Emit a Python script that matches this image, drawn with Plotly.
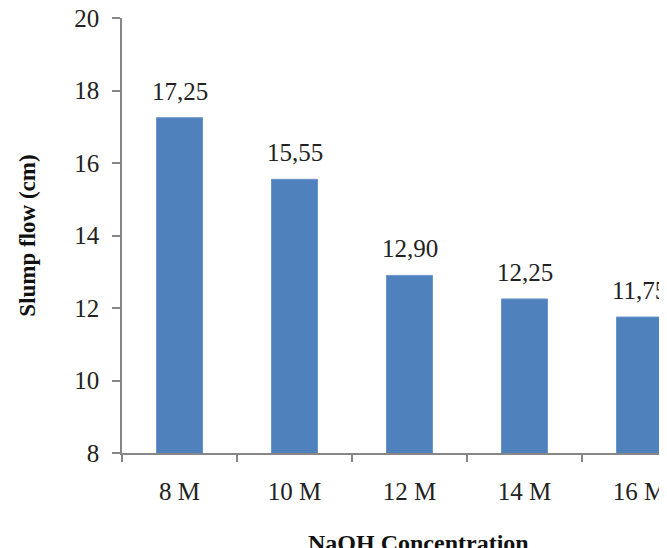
import plotly.graph_objects as go

categories = ["8 M", "10 M", "12 M", "14 M", "16 M"]
slump_flow = [17.25, 15.55, 12.90, 12.25, 11.75]
y_ticks = [8, 10, 12, 14, 16, 18, 20]

# page body has an 8px margin; size the figure so it fills the window exactly
W, H = 659, 540
L, R, T, B = 114, 0, 10, 95
cat_px = 115.0
plot_w = W - L - R
plot_h = H - T - B
x_max = -0.5 + plot_w / cat_px

serif = "Liberation Serif, Times New Roman, serif"
axis_col = "#868686"
txt_col = "#222222"

fig = go.Figure()
fig.add_trace(go.Bar(
    x=categories, y=slump_flow, width=0.4,
    marker=dict(color="#4F81BD", line=dict(color="#6A95CC", width=1)),
    cliponaxis=True, hoverinfo="skip",
))

for c, v in zip(categories, slump_flow):
    fig.add_annotation(
        x=c, y=v, xref="x", yref="y", text=f"{v:.2f}".replace(".", ","),
        showarrow=False, yanchor="bottom", yshift=11,
        font=dict(family=serif, size=25, color=txt_col),
    )

fig.add_annotation(
    x=(410 - L) / plot_w, y=-90 / plot_h, xref="paper", yref="paper",
    text="<b>NaOH Concentration</b>", showarrow=False, xanchor="center", yanchor="middle",
    font=dict(family=serif, size=24, color="#111"),
)

fig.update_layout(
    width=W, height=H,
    margin=dict(l=L, r=R, t=T, b=B, pad=0, autoexpand=False),
    paper_bgcolor="white", plot_bgcolor="white",
    showlegend=False,
    xaxis=dict(
        type="category", range=[-0.5, x_max], automargin=False,
        showline=True, linecolor=axis_col, linewidth=1.5,
        ticks="outside", tickson="boundaries", ticklen=7, tickcolor=axis_col, tickwidth=1.5,
        showgrid=False, zeroline=False,
        tickfont=dict(family=serif, size=25, color=txt_col),
        ticklabelstandoff=15, ticklabeloverflow="allow",
    ),
    yaxis=dict(
        range=[8, 20], tickvals=y_ticks, automargin=False,
        showline=True, linecolor=axis_col, linewidth=1.5,
        ticks="outside", ticklen=8, tickcolor=axis_col, tickwidth=1.5,
        showgrid=False, zeroline=False,
        tickfont=dict(family=serif, size=25, color=txt_col),
        ticklabelstandoff=8, ticklabeloverflow="allow",
        title=dict(text="<b>Slump flow (cm)</b>", font=dict(family=serif, size=23, color="#111"), standoff=32),
    ),
)

fig.write_html("out.html")
